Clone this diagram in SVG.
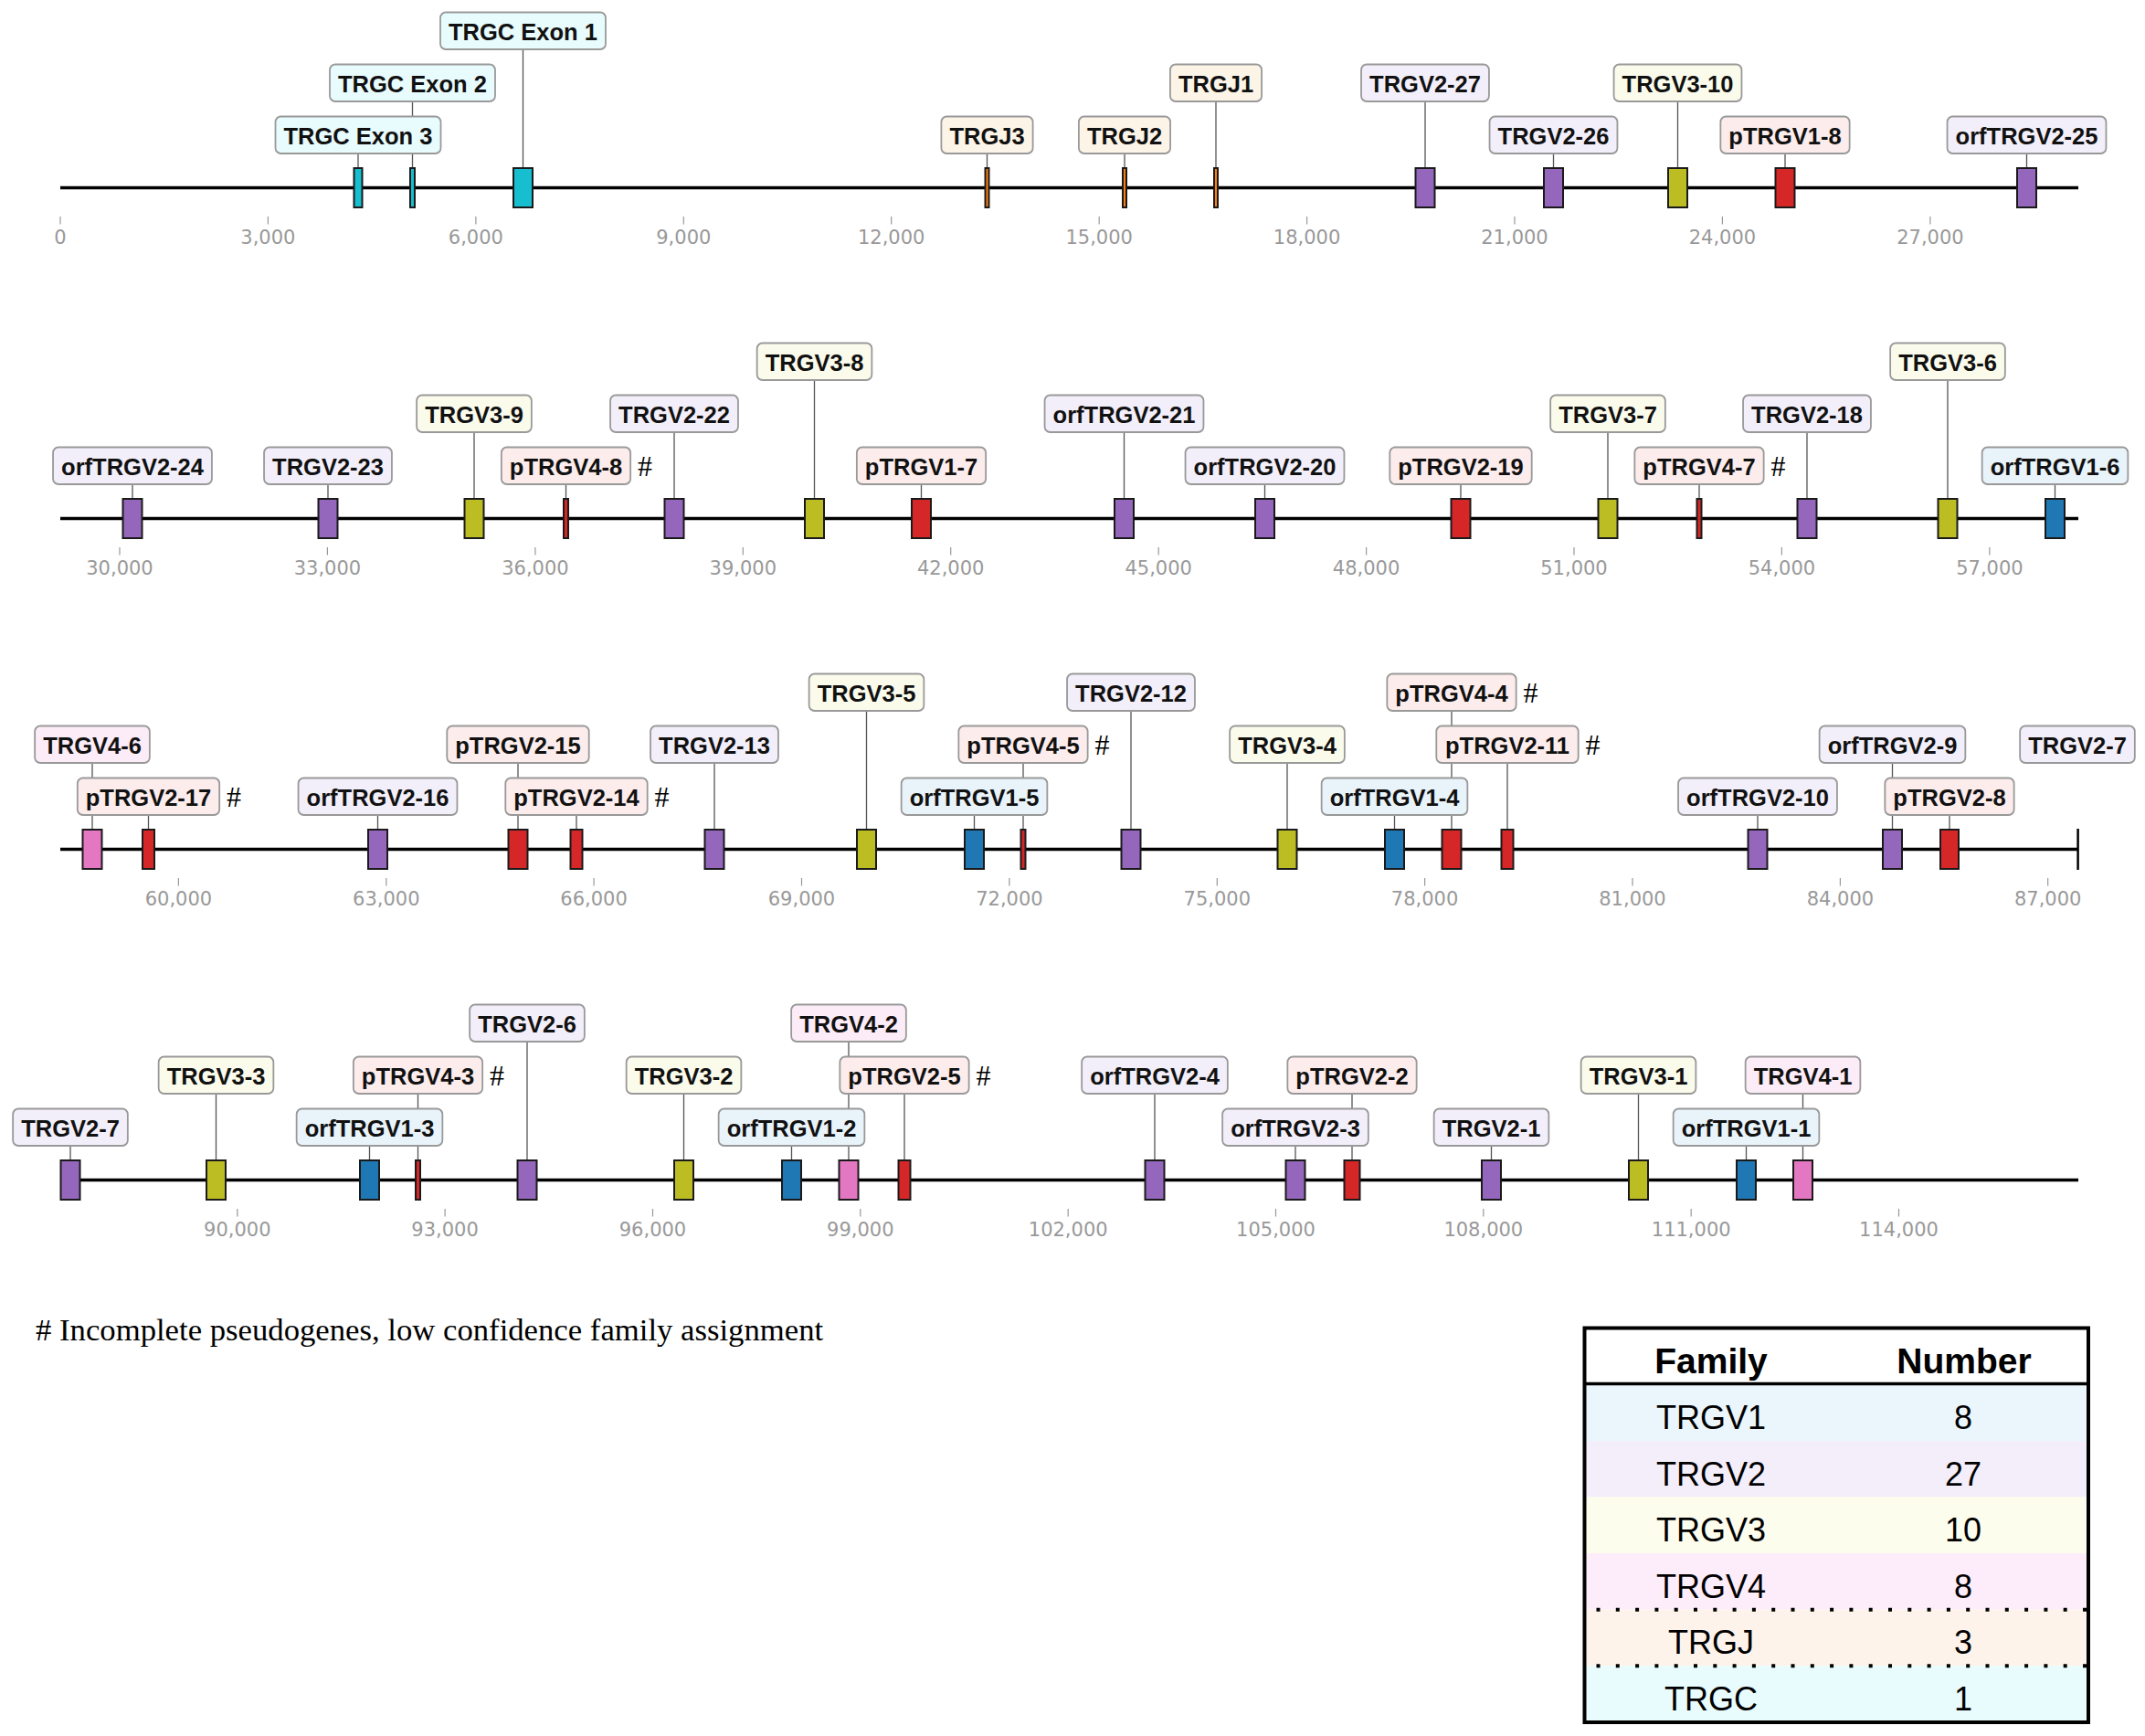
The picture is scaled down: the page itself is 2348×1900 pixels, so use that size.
<svg xmlns="http://www.w3.org/2000/svg" width="2348" height="1900" viewBox="0 0 2348 1900">
<style>
.ax{stroke:#000;stroke-width:3.5;fill:none}
.tk{stroke:#999;stroke-width:1.2;fill:none}
.tl{font-family:"DejaVu Sans",sans-serif;font-size:21px;fill:#999;text-anchor:middle}
.b{stroke:#1a1a1a;stroke-width:2}
.pu{fill:#9467bd}.ol{fill:#bcbd22}.rd{fill:#d62728}.bl{fill:#1f77b4}.pk{fill:#e377c2}.cy{fill:#17becf}.or{fill:#ff7f0e}
.l{stroke:#999;stroke-width:1.8}
.lpu{fill:#f3effa}.lol{fill:#fbfbec}.lrd{fill:#fcecec}.lbl{fill:#e9f3fa}.lpk{fill:#fcecf7}.lcy{fill:#e8fbfd}.lor{fill:#fdf4e8}
.t{font-family:"Liberation Sans",Arial,sans-serif;font-weight:bold;font-size:25.5px;text-anchor:middle;fill:#111}
.h{font-family:"Liberation Serif","Times New Roman",serif;font-size:32px;fill:#000}
.c{stroke:#555;stroke-width:1.3;fill:none}
.fn{font-family:"Liberation Serif","Times New Roman",serif;font-size:34.7px;fill:#000}
.lg{font-family:"Liberation Sans",Arial,sans-serif;font-size:36px;fill:#000;text-anchor:middle}
.lgh{font-family:"Liberation Sans",Arial,sans-serif;font-size:39px;font-weight:bold;fill:#000;text-anchor:middle}
</style>

<g id="axes">
<path class="ax" d="M66 205.5H2275M66 567.5H2275M66 929.5H2275M66 1291.5H2275"/>
<path d="M2274.6 907V952" stroke="#000" stroke-width="2.5"/>
</g>

<g id="ticks">
<path class="tk" d="M66 237V245.5M293.4 237V245.5M520.9 237V245.5M748.3 237V245.5M975.7 237V245.5M1203.2 237V245.5M1430.6 237V245.5M1658 237V245.5M1885.4 237V245.5M2112.9 237V245.5"/>
<path class="tk" d="M131 599V607.5M358.4 599V607.5M585.9 599V607.5M813.3 599V607.5M1040.7 599V607.5M1268.2 599V607.5M1495.6 599V607.5M1723 599V607.5M1950.4 599V607.5M2177.9 599V607.5"/>
<path class="tk" d="M195.4 961V969.5M422.8 961V969.5M650.1 961V969.5M877.5 961V969.5M1104.9 961V969.5M1332.3 961V969.5M1559.6 961V969.5M1787 961V969.5M2014.4 961V969.5M2241.7 961V969.5"/>
<path class="tk" d="M259.8 1323V1331.5M487.1 1323V1331.5M714.5 1323V1331.5M941.8 1323V1331.5M1169.2 1323V1331.5M1396.5 1323V1331.5M1623.8 1323V1331.5M1851.2 1323V1331.5M2078.5 1323V1331.5"/>
<g class="tl">
<text x="66" y="266.5">0</text><text x="293.4" y="266.5">3,000</text><text x="520.9" y="266.5">6,000</text><text x="748.3" y="266.5">9,000</text><text x="975.7" y="266.5">12,000</text><text x="1203.2" y="266.5">15,000</text><text x="1430.6" y="266.5">18,000</text><text x="1658" y="266.5">21,000</text><text x="1885.4" y="266.5">24,000</text><text x="2112.9" y="266.5">27,000</text>
<text x="131" y="628.5">30,000</text><text x="358.4" y="628.5">33,000</text><text x="585.9" y="628.5">36,000</text><text x="813.3" y="628.5">39,000</text><text x="1040.7" y="628.5">42,000</text><text x="1268.2" y="628.5">45,000</text><text x="1495.6" y="628.5">48,000</text><text x="1723" y="628.5">51,000</text><text x="1950.4" y="628.5">54,000</text><text x="2177.9" y="628.5">57,000</text>
<text x="195.4" y="990.5">60,000</text><text x="422.8" y="990.5">63,000</text><text x="650.1" y="990.5">66,000</text><text x="877.5" y="990.5">69,000</text><text x="1104.9" y="990.5">72,000</text><text x="1332.3" y="990.5">75,000</text><text x="1559.6" y="990.5">78,000</text><text x="1787" y="990.5">81,000</text><text x="2014.4" y="990.5">84,000</text><text x="2241.7" y="990.5">87,000</text>
<text x="259.8" y="1352.5">90,000</text><text x="487.1" y="1352.5">93,000</text><text x="714.5" y="1352.5">96,000</text><text x="941.8" y="1352.5">99,000</text><text x="1169.2" y="1352.5">102,000</text><text x="1396.5" y="1352.5">105,000</text><text x="1623.8" y="1352.5">108,000</text><text x="1851.2" y="1352.5">111,000</text><text x="2078.5" y="1352.5">114,000</text>
</g>
</g>

<g id="connectors">
<path class="c" d="M392 168V183"/><path class="c" d="M451.5 111V183"/><path class="c" d="M572.5 54V183"/><path class="c" d="M1080.5 168V183"/><path class="c" d="M1231 168V183"/><path class="c" d="M1331 111V183"/><path class="c" d="M1560 111V183"/><path class="c" d="M1700.5 168V183"/><path class="c" d="M1836.5 111V183"/><path class="c" d="M1954 168V183"/><path class="c" d="M2218.5 168V183"/>
<path class="c" d="M145 530V545"/><path class="c" d="M359 530V545"/><path class="c" d="M519 473V545"/><path class="c" d="M619.5 530V545"/><path class="c" d="M738 473V545"/><path class="c" d="M891.5 416V545"/><path class="c" d="M1008.5 530V545"/><path class="c" d="M1230.5 473V545"/><path class="c" d="M1384.5 530V545"/><path class="c" d="M1599 530V545"/><path class="c" d="M1760 473V545"/><path class="c" d="M1860 530V545"/><path class="c" d="M1978 473V545"/><path class="c" d="M2132 416V545"/><path class="c" d="M2249.5 530V545"/>
<path class="c" d="M101 835V907"/><path class="c" d="M162.5 892V907"/><path class="c" d="M413.5 892V907"/><path class="c" d="M567 835V907"/><path class="c" d="M631 892V907"/><path class="c" d="M782 835V907"/><path class="c" d="M948.5 778V907"/><path class="c" d="M1066.5 892V907"/><path class="c" d="M1120 835V907"/><path class="c" d="M1238 778V907"/><path class="c" d="M1409 835V907"/><path class="c" d="M1526.5 892V907"/><path class="c" d="M1589 778V907"/><path class="c" d="M1650 835V907"/><path class="c" d="M1924 892V907"/><path class="c" d="M2071.5 835V907"/><path class="c" d="M2134 892V907"/>
<path class="c" d="M77 1254V1269"/><path class="c" d="M236.5 1197V1269"/><path class="c" d="M404.5 1254V1269"/><path class="c" d="M457.5 1197V1269"/><path class="c" d="M577 1140V1269"/><path class="c" d="M748.5 1197V1269"/><path class="c" d="M866.5 1254V1269"/><path class="c" d="M929 1140V1269"/><path class="c" d="M990 1197V1269"/><path class="c" d="M1264 1197V1269"/><path class="c" d="M1418 1254V1269"/><path class="c" d="M1480 1197V1269"/><path class="c" d="M1632.5 1254V1269"/><path class="c" d="M1793.5 1197V1269"/><path class="c" d="M1911.5 1254V1269"/><path class="c" d="M1973.5 1197V1269"/>
</g>

<g id="row1">
<g id="TRGC-Exon-3" transform="translate(392 205.5)"><rect class="b cy" x="-4.5" y="-21.5" width="9" height="43"/><rect class="l lcy" x="-90.5" y="-78" width="181" height="40.5" rx="6"/><text class="t" y="-47.5">TRGC Exon 3</text></g>
<g id="TRGC-Exon-2" transform="translate(451.5 205.5)"><rect class="b cy" x="-2.5" y="-21.5" width="5" height="43"/><rect class="l lcy" x="-90.5" y="-135" width="181" height="40.5" rx="6"/><text class="t" y="-104.5">TRGC Exon 2</text></g>
<g id="TRGC-Exon-1" transform="translate(572.5 205.5)"><rect class="b cy" x="-10.5" y="-21.5" width="21" height="43"/><rect class="l lcy" x="-90.5" y="-192" width="181" height="40.5" rx="6"/><text class="t" y="-161.5">TRGC Exon 1</text></g>
<g id="TRGJ3" transform="translate(1080.5 205.5)"><rect class="b or" x="-2" y="-21.5" width="4" height="43"/><rect class="l lor" x="-50.1" y="-78" width="100.2" height="40.5" rx="6"/><text class="t" y="-47.5">TRGJ3</text></g>
<g id="TRGJ2" transform="translate(1231 205.5)"><rect class="b or" x="-2" y="-21.5" width="4" height="43"/><rect class="l lor" x="-50.1" y="-78" width="100.2" height="40.5" rx="6"/><text class="t" y="-47.5">TRGJ2</text></g>
<g id="TRGJ1" transform="translate(1331 205.5)"><rect class="b or" x="-2" y="-21.5" width="4" height="43"/><rect class="l lor" x="-50.1" y="-135" width="100.2" height="40.5" rx="6"/><text class="t" y="-104.5">TRGJ1</text></g>
<g id="TRGV2-27" transform="translate(1560 205.5)"><rect class="b pu" x="-10.5" y="-21.5" width="21" height="43"/><rect class="l lpu" x="-69.95" y="-135" width="139.9" height="40.5" rx="6"/><text class="t" y="-104.5">TRGV2-27</text></g>
<g id="TRGV2-26" transform="translate(1700.5 205.5)"><rect class="b pu" x="-10.5" y="-21.5" width="21" height="43"/><rect class="l lpu" x="-69.95" y="-78" width="139.9" height="40.5" rx="6"/><text class="t" y="-47.5">TRGV2-26</text></g>
<g id="TRGV3-10" transform="translate(1836.5 205.5)"><rect class="b ol" x="-10.5" y="-21.5" width="21" height="43"/><rect class="l lol" x="-69.95" y="-135" width="139.9" height="40.5" rx="6"/><text class="t" y="-104.5">TRGV3-10</text></g>
<g id="pTRGV1-8" transform="translate(1954 205.5)"><rect class="b rd" x="-10.5" y="-21.5" width="21" height="43"/><rect class="l lrd" x="-70.65" y="-78" width="141.3" height="40.5" rx="6"/><text class="t" y="-47.5">pTRGV1-8</text></g>
<g id="orfTRGV2-25" transform="translate(2218.5 205.5)"><rect class="b pu" x="-10.5" y="-21.5" width="21" height="43"/><rect class="l lpu" x="-86.95" y="-78" width="173.9" height="40.5" rx="6"/><text class="t" y="-47.5">orfTRGV2-25</text></g>
</g>

<g id="row2">
<g id="orfTRGV2-24" transform="translate(145 567.5)"><rect class="b pu" x="-10.5" y="-21.5" width="21" height="43"/><rect class="l lpu" x="-86.95" y="-78" width="173.9" height="40.5" rx="6"/><text class="t" y="-47.5">orfTRGV2-24</text></g>
<g id="TRGV2-23" transform="translate(359 567.5)"><rect class="b pu" x="-10.5" y="-21.5" width="21" height="43"/><rect class="l lpu" x="-69.95" y="-78" width="139.9" height="40.5" rx="6"/><text class="t" y="-47.5">TRGV2-23</text></g>
<g id="TRGV3-9" transform="translate(519 567.5)"><rect class="b ol" x="-10.5" y="-21.5" width="21" height="43"/><rect class="l lol" x="-62.85" y="-135" width="125.7" height="40.5" rx="6"/><text class="t" y="-104.5">TRGV3-9</text></g>
<g id="pTRGV4-8" transform="translate(619.5 567.5)"><rect class="b rd" x="-2.5" y="-21.5" width="5" height="43"/><rect class="l lrd" x="-70.65" y="-78" width="141.3" height="40.5" rx="6"/><text class="t" y="-47.5">pTRGV4-8</text><text class="h" x="78.5" y="-46.5">#</text></g>
<g id="TRGV2-22" transform="translate(738 567.5)"><rect class="b pu" x="-10.5" y="-21.5" width="21" height="43"/><rect class="l lpu" x="-69.95" y="-135" width="139.9" height="40.5" rx="6"/><text class="t" y="-104.5">TRGV2-22</text></g>
<g id="TRGV3-8" transform="translate(891.5 567.5)"><rect class="b ol" x="-10.5" y="-21.5" width="21" height="43"/><rect class="l lol" x="-62.85" y="-192" width="125.7" height="40.5" rx="6"/><text class="t" y="-161.5">TRGV3-8</text></g>
<g id="pTRGV1-7" transform="translate(1008.5 567.5)"><rect class="b rd" x="-10.5" y="-21.5" width="21" height="43"/><rect class="l lrd" x="-70.65" y="-78" width="141.3" height="40.5" rx="6"/><text class="t" y="-47.5">pTRGV1-7</text></g>
<g id="orfTRGV2-21" transform="translate(1230.5 567.5)"><rect class="b pu" x="-10.5" y="-21.5" width="21" height="43"/><rect class="l lpu" x="-86.95" y="-135" width="173.9" height="40.5" rx="6"/><text class="t" y="-104.5">orfTRGV2-21</text></g>
<g id="orfTRGV2-20" transform="translate(1384.5 567.5)"><rect class="b pu" x="-10.5" y="-21.5" width="21" height="43"/><rect class="l lpu" x="-86.95" y="-78" width="173.9" height="40.5" rx="6"/><text class="t" y="-47.5">orfTRGV2-20</text></g>
<g id="pTRGV2-19" transform="translate(1599 567.5)"><rect class="b rd" x="-10.5" y="-21.5" width="21" height="43"/><rect class="l lrd" x="-77.7" y="-78" width="155.4" height="40.5" rx="6"/><text class="t" y="-47.5">pTRGV2-19</text></g>
<g id="TRGV3-7" transform="translate(1760 567.5)"><rect class="b ol" x="-10.5" y="-21.5" width="21" height="43"/><rect class="l lol" x="-62.85" y="-135" width="125.7" height="40.5" rx="6"/><text class="t" y="-104.5">TRGV3-7</text></g>
<g id="pTRGV4-7" transform="translate(1860 567.5)"><rect class="b rd" x="-2.5" y="-21.5" width="5" height="43"/><rect class="l lrd" x="-70.65" y="-78" width="141.3" height="40.5" rx="6"/><text class="t" y="-47.5">pTRGV4-7</text><text class="h" x="78.5" y="-46.5">#</text></g>
<g id="TRGV2-18" transform="translate(1978 567.5)"><rect class="b pu" x="-10.5" y="-21.5" width="21" height="43"/><rect class="l lpu" x="-69.95" y="-135" width="139.9" height="40.5" rx="6"/><text class="t" y="-104.5">TRGV2-18</text></g>
<g id="TRGV3-6" transform="translate(2132 567.5)"><rect class="b ol" x="-10.5" y="-21.5" width="21" height="43"/><rect class="l lol" x="-62.85" y="-192" width="125.7" height="40.5" rx="6"/><text class="t" y="-161.5">TRGV3-6</text></g>
<g id="orfTRGV1-6" transform="translate(2249.5 567.5)"><rect class="b bl" x="-10.5" y="-21.5" width="21" height="43"/><rect class="l lbl" x="-79.85" y="-78" width="159.7" height="40.5" rx="6"/><text class="t" y="-47.5">orfTRGV1-6</text></g>
</g>

<g id="row3">
<g id="TRGV4-6" transform="translate(101 929.5)"><rect class="b pk" x="-10.5" y="-21.5" width="21" height="43"/><rect class="l lpk" x="-62.85" y="-135" width="125.7" height="40.5" rx="6"/><text class="t" y="-104.5">TRGV4-6</text></g>
<g id="pTRGV2-17" transform="translate(162.5 929.5)"><rect class="b rd" x="-6.5" y="-21.5" width="13" height="43"/><rect class="l lrd" x="-77.7" y="-78" width="155.4" height="40.5" rx="6"/><text class="t" y="-47.5">pTRGV2-17</text><text class="h" x="85.5" y="-46.5">#</text></g>
<g id="orfTRGV2-16" transform="translate(413.5 929.5)"><rect class="b pu" x="-10.5" y="-21.5" width="21" height="43"/><rect class="l lpu" x="-86.95" y="-78" width="173.9" height="40.5" rx="6"/><text class="t" y="-47.5">orfTRGV2-16</text></g>
<g id="pTRGV2-15" transform="translate(567 929.5)"><rect class="b rd" x="-10.5" y="-21.5" width="21" height="43"/><rect class="l lrd" x="-77.7" y="-135" width="155.4" height="40.5" rx="6"/><text class="t" y="-104.5">pTRGV2-15</text></g>
<g id="pTRGV2-14" transform="translate(631 929.5)"><rect class="b rd" x="-6.5" y="-21.5" width="13" height="43"/><rect class="l lrd" x="-77.7" y="-78" width="155.4" height="40.5" rx="6"/><text class="t" y="-47.5">pTRGV2-14</text><text class="h" x="85.5" y="-46.5">#</text></g>
<g id="TRGV2-13" transform="translate(782 929.5)"><rect class="b pu" x="-10.5" y="-21.5" width="21" height="43"/><rect class="l lpu" x="-69.95" y="-135" width="139.9" height="40.5" rx="6"/><text class="t" y="-104.5">TRGV2-13</text></g>
<g id="TRGV3-5" transform="translate(948.5 929.5)"><rect class="b ol" x="-10.5" y="-21.5" width="21" height="43"/><rect class="l lol" x="-62.85" y="-192" width="125.7" height="40.5" rx="6"/><text class="t" y="-161.5">TRGV3-5</text></g>
<g id="orfTRGV1-5" transform="translate(1066.5 929.5)"><rect class="b bl" x="-10.5" y="-21.5" width="21" height="43"/><rect class="l lbl" x="-79.85" y="-78" width="159.7" height="40.5" rx="6"/><text class="t" y="-47.5">orfTRGV1-5</text></g>
<g id="pTRGV4-5" transform="translate(1120 929.5)"><rect class="b rd" x="-2.5" y="-21.5" width="5" height="43"/><rect class="l lrd" x="-70.65" y="-135" width="141.3" height="40.5" rx="6"/><text class="t" y="-104.5">pTRGV4-5</text><text class="h" x="78.5" y="-103.5">#</text></g>
<g id="TRGV2-12" transform="translate(1238 929.5)"><rect class="b pu" x="-10.5" y="-21.5" width="21" height="43"/><rect class="l lpu" x="-69.95" y="-192" width="139.9" height="40.5" rx="6"/><text class="t" y="-161.5">TRGV2-12</text></g>
<g id="TRGV3-4" transform="translate(1409 929.5)"><rect class="b ol" x="-10.5" y="-21.5" width="21" height="43"/><rect class="l lol" x="-62.85" y="-135" width="125.7" height="40.5" rx="6"/><text class="t" y="-104.5">TRGV3-4</text></g>
<g id="orfTRGV1-4" transform="translate(1526.5 929.5)"><rect class="b bl" x="-10.5" y="-21.5" width="21" height="43"/><rect class="l lbl" x="-79.85" y="-78" width="159.7" height="40.5" rx="6"/><text class="t" y="-47.5">orfTRGV1-4</text></g>
<g id="pTRGV4-4" transform="translate(1589 929.5)"><rect class="b rd" x="-10.5" y="-21.5" width="21" height="43"/><rect class="l lrd" x="-70.65" y="-192" width="141.3" height="40.5" rx="6"/><text class="t" y="-161.5">pTRGV4-4</text><text class="h" x="78.5" y="-160.5">#</text></g>
<g id="pTRGV2-11" transform="translate(1650 929.5)"><rect class="b rd" x="-6.5" y="-21.5" width="13" height="43"/><rect class="l lrd" x="-77.7" y="-135" width="155.4" height="40.5" rx="6"/><text class="t" y="-104.5">pTRGV2-11</text><text class="h" x="85.5" y="-103.5">#</text></g>
<g id="orfTRGV2-10" transform="translate(1924 929.5)"><rect class="b pu" x="-10.5" y="-21.5" width="21" height="43"/><rect class="l lpu" x="-86.95" y="-78" width="173.9" height="40.5" rx="6"/><text class="t" y="-47.5">orfTRGV2-10</text></g>
<g id="orfTRGV2-9" transform="translate(2071.5 929.5)"><rect class="b pu" x="-10.5" y="-21.5" width="21" height="43"/><rect class="l lpu" x="-79.85" y="-135" width="159.7" height="40.5" rx="6"/><text class="t" y="-104.5">orfTRGV2-9</text></g>
<g id="pTRGV2-8" transform="translate(2134 929.5)"><rect class="b rd" x="-10" y="-21.5" width="20" height="43"/><rect class="l lrd" x="-70.65" y="-78" width="141.3" height="40.5" rx="6"/><text class="t" y="-47.5">pTRGV2-8</text></g>
<g id="TRGV2-7-label" transform="translate(2274 929.5)"><rect class="l lpu" x="-62.85" y="-135" width="125.7" height="40.5" rx="6"/><text class="t" y="-104.5">TRGV2-7</text></g>
</g>

<g id="row4">
<g id="TRGV2-7" transform="translate(77 1291.5)"><rect class="b pu" x="-10.5" y="-21.5" width="21" height="43"/><rect class="l lpu" x="-62.85" y="-78" width="125.7" height="40.5" rx="6"/><text class="t" y="-47.5">TRGV2-7</text></g>
<g id="TRGV3-3" transform="translate(236.5 1291.5)"><rect class="b ol" x="-10.5" y="-21.5" width="21" height="43"/><rect class="l lol" x="-62.85" y="-135" width="125.7" height="40.5" rx="6"/><text class="t" y="-104.5">TRGV3-3</text></g>
<g id="orfTRGV1-3" transform="translate(404.5 1291.5)"><rect class="b bl" x="-10.5" y="-21.5" width="21" height="43"/><rect class="l lbl" x="-79.85" y="-78" width="159.7" height="40.5" rx="6"/><text class="t" y="-47.5">orfTRGV1-3</text></g>
<g id="pTRGV4-3" transform="translate(457.5 1291.5)"><rect class="b rd" x="-2.5" y="-21.5" width="5" height="43"/><rect class="l lrd" x="-70.65" y="-135" width="141.3" height="40.5" rx="6"/><text class="t" y="-104.5">pTRGV4-3</text><text class="h" x="78.5" y="-103.5">#</text></g>
<g id="TRGV2-6" transform="translate(577 1291.5)"><rect class="b pu" x="-10.5" y="-21.5" width="21" height="43"/><rect class="l lpu" x="-62.85" y="-192" width="125.7" height="40.5" rx="6"/><text class="t" y="-161.5">TRGV2-6</text></g>
<g id="TRGV3-2" transform="translate(748.5 1291.5)"><rect class="b ol" x="-10.5" y="-21.5" width="21" height="43"/><rect class="l lol" x="-62.85" y="-135" width="125.7" height="40.5" rx="6"/><text class="t" y="-104.5">TRGV3-2</text></g>
<g id="orfTRGV1-2" transform="translate(866.5 1291.5)"><rect class="b bl" x="-10.5" y="-21.5" width="21" height="43"/><rect class="l lbl" x="-79.85" y="-78" width="159.7" height="40.5" rx="6"/><text class="t" y="-47.5">orfTRGV1-2</text></g>
<g id="TRGV4-2" transform="translate(929 1291.5)"><rect class="b pk" x="-10.5" y="-21.5" width="21" height="43"/><rect class="l lpk" x="-62.85" y="-192" width="125.7" height="40.5" rx="6"/><text class="t" y="-161.5">TRGV4-2</text></g>
<g id="pTRGV2-5" transform="translate(990 1291.5)"><rect class="b rd" x="-6.5" y="-21.5" width="13" height="43"/><rect class="l lrd" x="-70.65" y="-135" width="141.3" height="40.5" rx="6"/><text class="t" y="-104.5">pTRGV2-5</text><text class="h" x="78.5" y="-103.5">#</text></g>
<g id="orfTRGV2-4" transform="translate(1264 1291.5)"><rect class="b pu" x="-10.5" y="-21.5" width="21" height="43"/><rect class="l lpu" x="-79.85" y="-135" width="159.7" height="40.5" rx="6"/><text class="t" y="-104.5">orfTRGV2-4</text></g>
<g id="orfTRGV2-3" transform="translate(1418 1291.5)"><rect class="b pu" x="-10.5" y="-21.5" width="21" height="43"/><rect class="l lpu" x="-79.85" y="-78" width="159.7" height="40.5" rx="6"/><text class="t" y="-47.5">orfTRGV2-3</text></g>
<g id="pTRGV2-2" transform="translate(1480 1291.5)"><rect class="b rd" x="-8.5" y="-21.5" width="17" height="43"/><rect class="l lrd" x="-70.65" y="-135" width="141.3" height="40.5" rx="6"/><text class="t" y="-104.5">pTRGV2-2</text></g>
<g id="TRGV2-1" transform="translate(1632.5 1291.5)"><rect class="b pu" x="-10.5" y="-21.5" width="21" height="43"/><rect class="l lpu" x="-62.85" y="-78" width="125.7" height="40.5" rx="6"/><text class="t" y="-47.5">TRGV2-1</text></g>
<g id="TRGV3-1" transform="translate(1793.5 1291.5)"><rect class="b ol" x="-10.5" y="-21.5" width="21" height="43"/><rect class="l lol" x="-62.85" y="-135" width="125.7" height="40.5" rx="6"/><text class="t" y="-104.5">TRGV3-1</text></g>
<g id="orfTRGV1-1" transform="translate(1911.5 1291.5)"><rect class="b bl" x="-10.5" y="-21.5" width="21" height="43"/><rect class="l lbl" x="-79.85" y="-78" width="159.7" height="40.5" rx="6"/><text class="t" y="-47.5">orfTRGV1-1</text></g>
<g id="TRGV4-1" transform="translate(1973.5 1291.5)"><rect class="b pk" x="-10.5" y="-21.5" width="21" height="43"/><rect class="l lpk" x="-62.85" y="-135" width="125.7" height="40.5" rx="6"/><text class="t" y="-104.5">TRGV4-1</text></g>
</g>

<text id="footnote" class="fn" x="39" y="1467"># Incomplete pseudogenes, low confidence family assignment</text>

<g id="legend">
<rect x="1734" y="1453.5" width="552" height="61" fill="#fff"/>
<rect x="1734" y="1516" width="552" height="61" fill="#eaf6fc"/>
<rect x="1734" y="1577" width="552" height="61.5" fill="#f4eefa"/>
<rect x="1734" y="1638.5" width="552" height="61.5" fill="#fdfdee"/>
<rect x="1734" y="1700" width="552" height="61.7" fill="#fdedfa"/>
<rect x="1734" y="1761.7" width="552" height="61.6" fill="#fdf3ea"/>
<rect x="1734" y="1823.3" width="552" height="62.5" fill="#e8fbfd"/>
<path d="M1734 1514.5H2286" stroke="#000" stroke-width="3.5"/>
<path d="M1747.5 1761.7H2286M1747.5 1823.3H2286" stroke="#000" stroke-width="4" stroke-dasharray="4 17.3"/>
<rect x="1734.5" y="1453.5" width="551.5" height="431.5" fill="none" stroke="#000" stroke-width="4"/>
<text class="lgh" x="1873" y="1503">Family</text>
<text class="lgh" x="2150" y="1503">Number</text>
<g class="lg">
<text x="1873" y="1564">TRGV1</text><text x="2149" y="1564">8</text>
<text x="1873" y="1625.5">TRGV2</text><text x="2149" y="1625.5">27</text>
<text x="1873" y="1687">TRGV3</text><text x="2149" y="1687">10</text>
<text x="1873" y="1748.5">TRGV4</text><text x="2149" y="1748.5">8</text>
<text x="1873" y="1809.5">TRGJ</text><text x="2149" y="1809.5">3</text>
<text x="1873" y="1871.5">TRGC</text><text x="2149" y="1871.5">1</text>
</g>
</g>
</svg>
